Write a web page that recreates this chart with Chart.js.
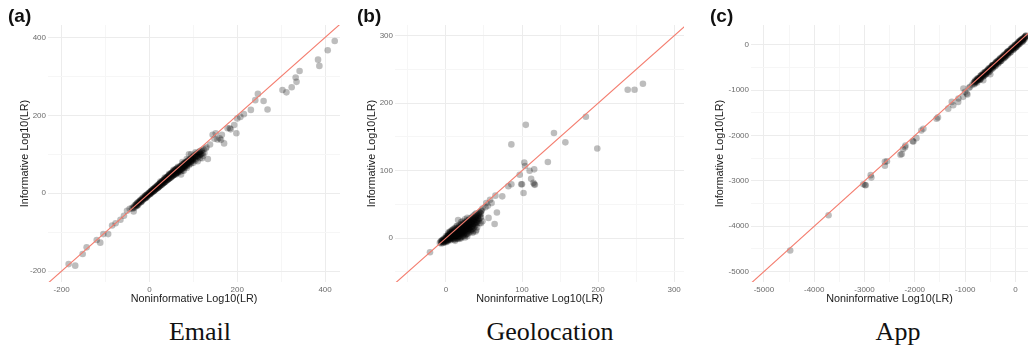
<!DOCTYPE html>
<html>
<head>
<meta charset="utf-8">
<script src="https://cdn.jsdelivr.net/npm/chart.js@4.4.0/dist/chart.umd.min.js"></script>
<style>
  body { margin: 0; background: #fff; width: 1032px; height: 350px; overflow: hidden; position: relative; font-family: "Liberation Sans", Arial, sans-serif; }
  .panel { position: absolute; top: 0; width: 344px; height: 310px; }
  .tag { position: absolute; top: 6px; font-size: 19px; line-height: 20px; font-weight: bold; color: #111; }
  .name { position: absolute; top: 319px; font-family: "Liberation Serif", "Times New Roman", serif; font-size: 26px; line-height: 25px; color: #111; transform: translateX(-50%); white-space: nowrap; }
</style>
</head>
<body>
<div class="panel" style="left:0px"><canvas id="email" width="344" height="310"></canvas></div>
<div class="panel" style="left:344px"><canvas id="geo" width="344" height="310"></canvas></div>
<div class="panel" style="left:688px"><canvas id="app" width="344" height="310"></canvas></div>

<div class="tag" style="left:8px">(a)</div>
<div class="tag" style="left:357px">(b)</div>
<div class="tag" style="left:710px">(c)</div>

<div class="name" style="left:200px">Email</div>
<div class="name" style="left:550px">Geolocation</div>
<div class="name" style="left:898px">App</div>

<script>
const FONT = '"Liberation Sans", Arial, sans-serif';

// (a) Email: [noninformative, informative] log10 LR pairs
const emailPoints = [
  // lower tail
  [-184,-182],[-169,-186],[-152,-156],[-143,-139],[-120,-120],[-112,-127],[-105,-105],[-94,-105],
  [-85,-83],[-77,-77],[-66,-68],[-58,-58],[-51,-45],[-36,-47],[-45,-40],
  // dense band
  [-40,-38],[-35,-36],[-32,-30],[-30,-33],[-28,-26],[-25,-27],[-22,-20],[-20,-23],[-18,-16],[-16,-19],
  [-14,-12],[-12,-15],[-10,-8],[-9,-12],[-7,-5],[-6,-9],[-4,-2],[-3,-6],[-1,1],[0,-3],[2,3],[3,0],
  [4,6],[5,2],[7,8],[8,4],[9,11],[10,6],[12,13],[13,9],[14,16],[15,11],[17,18],[18,13],[19,21],[20,15],
  [22,23],[23,18],[24,26],[25,20],[27,28],[28,22],[29,31],[30,25],[32,33],[33,27],[34,36],[35,29],
  [37,38],[38,31],[39,41],[40,34],[42,43],[43,36],[44,46],[45,38],[47,48],[48,40],[49,51],[50,42],
  [52,53],[53,45],[54,56],[55,47],[57,58],[58,49],[59,61],[60,51],[62,63],[63,54],[64,58],[66,56],
  [67,62],[68,59],[70,66],[71,60],[72,69],[74,63],[75,71],[76,66],[78,74],[79,68],[80,77],[82,71],
  [83,79],[84,73],[86,81],[87,75],[88,84],[90,78],[92,86],[94,80],[95,88],[97,83],[99,90],[100,85],
  [103,95],[105,88],[108,100],[110,93],[113,104],[115,98],[118,108],[120,90],[123,112],[125,103],
  [60,48],[70,55],[72,48],[78,58],[80,65],[85,65],[90,72],[95,100],[85,88],[75,80],[65,68],[55,60],
  [45,50],[35,40],[25,30],[100,78],[110,82],[115,108],[105,105],[112,95],[90,100],[128,115],
  [-38,-40],[-36,-34],[-34,-37],[-31,-29],[-29,-31],[-27,-24],[-26,-30],[-24,-22],[-23,-25],[-21,-18],
  [-19,-21],[-17,-14],[-15,-17],[-13,-10],[-11,-13],[-9,-6],[-8,-10],[-6,-4],[-5,-8],[-2,0],[-2,-4],
  [1,2],[1,-2],[3,5],[4,1],[6,7],[6,3],[8,10],[9,5],[11,12],[11,7],[13,14],[14,10],[16,17],[16,12],
  [18,19],[19,14],[21,22],[21,16],[23,24],[24,19],[26,27],[26,21],[28,29],[29,23],[31,32],[31,26],
  [33,34],[34,28],[36,37],[36,30],[38,39],[39,33],[41,42],[41,35],[43,44],[44,37],[46,47],[46,39],
  [48,49],[49,41],[51,52],[51,44],[53,54],[54,46],[56,57],[56,48],[58,59],[59,50],[61,62],[61,53],
  [63,64],[64,55],[66,66],[67,57],[69,68],[69,60],[71,70],[72,62],[74,72],[74,64],[76,75],[77,67],
  [79,77],[80,70],[81,78],[82,74],[84,80],[85,76],[87,83],[88,78],[90,85],[91,80],[93,88],[94,83],
  [96,91],[97,86],[99,94],[100,88],[102,97],[104,92],[106,100],[107,95],[109,103],[111,98],[114,106],
  [116,100],[119,110],[121,104],
  [-30,-30],[-25,-24],[-20,-19],[-15,-15],[-10,-10],[-5,-5],[0,0],[5,5],[10,10],[15,14],[20,19],
  [25,24],[30,29],[35,34],[40,39],[45,43],[50,48],[55,53],[60,57],[65,61],[70,64],[75,68],[80,72],
  [85,77],[90,82],[95,86],[100,92],[-28,-32],[-18,-22],[-8,-12],[2,-2],[12,8],[22,17],[32,26],
  [42,35],[52,44],[62,52],[72,60],[82,68],[92,76],
  [65,52],[75,58],[85,70],[95,76],[105,84],[115,90],[68,64],[78,70],[88,80],[98,88],[108,96],
  [118,100],[122,96],
  // upper tail
  [130,118],[133,88],[138,125],[144,150],[148,140],[151,154],[155,138],[160,141],[163,137],[165,150],
  [170,128],[178,167],[183,167],[185,164],[193,175],[198,154],[200,192],[207,196],[215,203],[231,214],
  [241,239],[247,255],[260,237],[269,215],[303,265],[312,259],[324,272],[333,297],[335,286],[342,314],
  [384,343],[387,327],[406,367],[422,391]
];

// (b) Geolocation
const geoPoints = [
  // dense cluster
  [-8,-7],[-6,-6],[-5,-3],[-4,-7],[-3,-2],[-2,-5],[-1,0],[0,-4],[1,2],[1,-2],[2,-5],[3,1],[3,4],[4,-2],
  [5,3],[5,0],[6,6],[6,-3],[7,2],[7,5],[8,0],[8,8],[9,3],[9,6],[10,-2],[10,9],[11,4],[11,1],[12,7],
  [12,11],[13,3],[13,5],[14,9],[14,0],[15,13],[15,6],[16,2],[16,10],[17,7],[17,15],[18,4],[18,12],
  [19,9],[19,1],[20,16],[20,6],[21,12],[21,19],[22,3],[22,9],[23,14],[23,18],[24,7],[24,11],[25,21],
  [25,16],[26,5],[26,13],[27,19],[27,24],[28,10],[28,15],[29,22],[30,8],[30,18],[30,27],[31,13],
  [32,24],[32,20],[33,11],[33,28],[34,17],[35,22],[35,30],[36,14],[37,26],[38,20],[38,32],[39,10],
  [40,24],[40,34],[41,16],[42,29],[43,36],[44,22],[45,38],[46,31],[47,41],[18,-1],[25,1],[35,8],
  [12,-4],[28,3],[40,12],[6,10],[10,14],[14,18],[20,24],[16,27],
  [-7,-5],[-6,-8],[-5,-5],[-4,-3],[-3,-6],[-2,-2],[-1,-4],[0,0],[0,-6],[1,0],[2,2],[2,-3],[3,-1],
  [3,3],[4,1],[4,5],[5,-2],[5,6],[6,1],[6,4],[7,-1],[7,7],[8,3],[8,5],[9,0],[9,9],[10,4],[10,7],
  [11,-1],[11,10],[12,2],[12,5],[13,8],[13,12],[14,3],[14,6],[15,0],[15,10],[16,5],[16,14],[17,2],
  [17,11],[18,8],[18,16],[19,5],[19,13],[20,2],[20,10],[21,7],[21,15],[22,12],[22,20],[23,5],[23,9],
  [24,15],[24,22],[25,8],[25,12],[26,18],[26,24],[27,6],[27,14],[28,20],[28,26],[29,11],[29,17],
  [30,14],[30,23],[31,20],[31,29],[32,9],[32,16],[33,22],[33,25],[34,13],[34,31],[35,18],[35,26],
  [36,21],[36,33],[37,16],[37,29],[38,24],[38,35],[39,19],[39,31],[40,27],[40,37],[41,22],[42,33],
  [43,26],[44,38],[45,30],[46,40],[12,-2],[16,-1],[20,0],[24,3],[28,6],[32,12],[36,10],[3,7],[6,9],
  [9,12],[12,15],[15,18],[18,20],[22,25],[25,28],[0,3],[-3,-1],[4,9],[8,12],[28,30],
  [0,-2],[2,0],[4,3],[6,2],[8,6],[10,5],[12,9],[14,8],[16,12],[18,10],[20,14],[22,13],[24,17],
  [26,16],[28,18],[30,20],[32,22],[34,24],[36,26],[38,28],[40,30],[42,32],[1,-4],[3,-3],[5,-1],
  [7,1],[9,2],[11,3],[13,4],[15,5],[17,6],[19,7],[21,8],[23,10],[25,11],[27,12],[29,14],[31,15],
  [33,17],[35,19],[37,21],[39,23],[41,25],[43,28],[2,4],[5,8],[8,10],[11,13],[14,15],[17,17],
  [20,20],[23,22],[26,22],[29,25],[32,27],[35,28],[-2,-6],[-4,-5],[-6,-4],[44,34],[46,36],
  // scattered
  [-21,-21],[46,22],[48,25],[53,52],[56,30],[58,57],[64,21],[65,63],[67,38],[74,62],[82,77],[86,80],
  [86,139],[99,80],[100,80],[97,94],[102,67],[103,112],[104,107],[105,168],[110,100],[112,88],
  [115,82],[116,80],[117,79],[116,102],[134,113],[142,156],[157,142],[184,180],[199,133],[239,220],
  [248,220],[259,229],[52,46],[60,52],[48,44],[55,48]
];

// (c) App
const appPoints = [
  // scattered tail
  [-4478,-4533],[-3715,-3756],[-3024,-3073],[-2976,-3096],[-2990,-3090],[-2877,-2873],[-2864,-2925],
  [-2595,-2578],[-2595,-2667],[-2555,-2569],[-2285,-2422],[-2259,-2407],[-2233,-2296],[-2194,-2258],
  [-2186,-2222],[-2041,-2125],[-2028,-2133],[-1968,-2058],[-1870,-1889],[-1830,-1851],[-1567,-1629],
  [-1540,-1600],[-1336,-1407],[-1265,-1258],[-1237,-1333],[-1138,-1258],[-1132,-1184],[-1040,-1147],
  [-1000,-1036],[-968,-1073],[-955,-1096],[-1034,-962],[-921,-947],[-901,-925],[-860,-880],[-640,-780],
  [-500,-650],
  // dense band
  [-820,-850],[-800,-790],[-790,-830],[-770,-760],[-760,-800],[-740,-745],[-720,-770],[-700,-690],
  [-690,-740],[-670,-660],[-650,-700],[-640,-630],[-620,-680],[-600,-600],[-590,-650],[-570,-570],
  [-550,-610],[-540,-540],[-520,-580],[-500,-500],[-490,-550],[-470,-470],[-450,-510],[-440,-440],
  [-420,-480],[-400,-400],[-390,-450],[-370,-370],[-350,-410],[-340,-340],[-320,-380],[-300,-300],
  [-290,-350],[-270,-270],[-250,-310],[-240,-240],[-220,-280],[-200,-200],[-190,-250],[-170,-170],
  [-150,-210],[-140,-140],[-120,-180],[-100,-100],[-90,-150],[-70,-70],[-50,-110],[-40,-40],[-20,-80],
  [0,0],[10,-50],[30,30],[40,-20],[60,60],[70,10],[90,90],[100,40],[120,120],[130,70],[150,140],
  [160,100],[180,170],[190,130],[200,190],[-600,-660],[-300,-360],[0,-60],[150,80],[-450,-450],
  [-150,-150],[100,100],[-700,-760],[-200,-260],[50,0],
  [-810,-820],[-795,-810],[-780,-800],[-765,-780],[-750,-770],[-735,-760],[-725,-730],[-710,-740],
  [-695,-715],[-680,-700],[-665,-690],[-655,-670],[-640,-665],[-625,-645],[-610,-630],[-595,-620],
  [-580,-600],[-565,-590],[-555,-575],[-540,-565],[-525,-545],[-510,-530],[-495,-520],[-480,-500],
  [-465,-490],[-455,-475],[-440,-465],[-425,-445],[-410,-430],[-395,-420],[-380,-400],[-365,-390],
  [-355,-375],[-340,-365],[-325,-345],[-310,-330],[-295,-320],[-280,-300],[-265,-290],[-255,-275],
  [-240,-265],[-225,-245],[-210,-230],[-195,-220],[-180,-200],[-165,-190],[-155,-175],[-140,-165],
  [-125,-145],[-110,-130],[-95,-120],[-80,-100],[-65,-90],[-55,-75],[-40,-65],[-25,-45],[-10,-30],
  [5,-20],[20,0],[35,10],[45,25],[60,35],[75,50],[85,65],[100,75],[115,95],[130,105],[145,120],
  [160,135],[175,150],[190,165],[205,180],[210,200],[-815,-870],[-760,-830],[-700,-770],[-640,-700],
  [-580,-640],[-520,-600],[-460,-530],[-400,-470],[-340,-410],[-280,-350],[-220,-290],[-160,-230],
  [-100,-170],[-40,-110],[20,-50],[80,20],[140,90],[-830,-830],[-750,-740],[-680,-670],[-610,-600],
  [-530,-520],[-460,-450],[-380,-375],[-310,-305],[-230,-225],[-160,-155],[-80,-75],[-10,-5],[70,70],
  [140,135],[210,205]
];

// axis limits and ticks (grid every tick, label only the major ones)
const emailRangeX = [-231, 434];
const emailRangeY = [-228, 432];
const emailTicks = [-200, -100, 0, 100, 200, 300, 400];
const emailLabels = [-200, 0, 200, 400];

const geoRangeX = [-67, 313];
const geoRangeY = [-65, 316];
const geoTicks = [-50, 0, 50, 100, 150, 200, 250, 300];
const geoLabels = [0, 100, 200, 300];

const appRangeX = [-5257, 250];
const appRangeY = [-5229, 437];
const appTicks = [-5000, -4500, -4000, -3500, -3000, -2500, -2000, -1500, -1000, -500, 0];
const appLabels = [-5000, -4000, -3000, -2000, -1000, 0];

function makeAxis(range, ticks, labels, title, horizontal, axisSize, titlePad) {
  return {
    type: 'linear',
    min: range[0],
    max: range[1],
    afterBuildTicks: (scale) => {
      scale.ticks = ticks.filter(v => v >= range[0] && v <= range[1]).map(v => ({ value: v }));
    },
    afterFit: (scale) => {
      if (horizontal) scale.height = axisSize;
      else scale.width = axisSize;
    },
    ticks: {
      autoSkip: false,
      maxRotation: 0,
      padding: horizontal ? 3 : 2,
      color: '#6b6b6b',
      font: { size: 8, family: FONT },
      callback: (v) => labels.includes(v) ? String(v) : ''
    },
    grid: {
      drawTicks: false,
      lineWidth: 1,
      color: (ctx) => (ctx.tick && labels.includes(ctx.tick.value)) ? '#ececec' : '#f6f6f6'
    },
    border: { display: false },
    title: {
      display: true,
      text: title,
      color: '#1a1a1a',
      font: { size: 10.8, family: FONT },
      padding: horizontal ? { top: 0, bottom: 4.7 } : { top: titlePad, bottom: 0 }
    }
  };
}

function drawPanel(id, points, rangeX, rangeY, ticks, labels, yWidth, yTitlePad, rightPad) {
  const lo = Math.min(rangeX[0], rangeY[0]);
  const hi = Math.max(rangeX[1], rangeY[1]);
  new Chart(document.getElementById(id), {
    type: 'scatter',
    data: {
      datasets: [
        {
          // y = x reference line, drawn on top
          data: [{ x: lo, y: lo }, { x: hi, y: hi }],
          showLine: true,
          borderColor: '#f47c6e',
          borderWidth: 1.1,
          pointRadius: 0,
          order: 0
        },
        {
          data: points.map(p => ({ x: p[0], y: p[1] })),
          backgroundColor: 'rgba(0,0,0,0.26)',
          borderWidth: 0,
          pointRadius: 3.3,
          order: 1
        }
      ]
    },
    options: {
      responsive: false,
      animation: false,
      devicePixelRatio: 1,
      layout: { padding: { top: 25, right: rightPad, bottom: 0, left: 0 } },
      plugins: { legend: { display: false }, tooltip: { enabled: false } },
      scales: {
        x: makeAxis(rangeX, ticks, labels, 'Noninformative Log10(LR)', true, 28, 0),
        y: makeAxis(rangeY, ticks, labels, 'Informative Log10(LR)', false, yWidth, yTitlePad)
      }
    }
  });
}

drawPanel('email', emailPoints, emailRangeX, emailRangeY, emailTicks, emailLabels, 48, 18.7, 0);
drawPanel('geo', geoPoints, geoRangeX, geoRangeY, geoTicks, geoLabels, 51, 21.7, 0);
drawPanel('app', appPoints, appRangeX, appRangeY, appTicks, appLabels, 63, 25.7, 2);
</script>
</body>
</html>
